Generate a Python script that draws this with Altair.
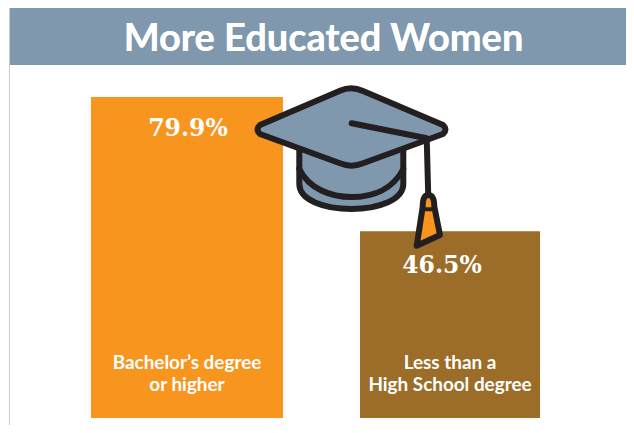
import altair as alt
import pandas as pd

categories = ["Bachelor’s degree\nor higher", "Less than a\nHigh School degree"]
values = [79.9, 46.5]
value_labels = ["79.9%", "46.5%"]
bar_colors = ["#F8951F", "#9C6D28"]
title_text = "More Educated Women"

df = pd.DataFrame({"cat": categories, "value": values, "label": value_labels, "zero": [0, 0]})

BLUE = "#8098AE"
INK = "#231F20"
ORANGE = "#F8951F"

x_scale = alt.Scale(type="point", domain=categories, range=[179, 442], padding=0)
y_scale = alt.Scale(domain=[0, 79.9], range=[410, 89])
X = alt.X("cat:N", scale=x_scale, axis=None)
Y = alt.Y("value:Q", scale=y_scale, axis=None)
Y0 = alt.Y("zero:Q", scale=y_scale, axis=None)

layers = []

# page frame and banner
layers.append(alt.Chart(df).mark_rule(color="#c9c9c9", strokeWidth=1).encode(
    x=alt.value(1.5), y=alt.value(0), y2=alt.value(417)))
layers.append(alt.Chart(df).mark_rect(color=BLUE).encode(
    x=alt.value(2), x2=alt.value(618), y=alt.value(0), y2=alt.value(57)))
layers.append(alt.Chart(df).mark_text(
    text=title_text, font="Lato", fontSize=38, fontWeight=700, color="white",
    align="center", baseline="middle").encode(x=alt.value(315.5), y=alt.value(31.5)))

# bars
widths = [192, 180]
for i, c in enumerate(categories):
    d = df[df.cat == c]
    layers.append(alt.Chart(d).mark_bar(size=widths[i], color=bar_colors[i]).encode(x=X, y=Y, y2=alt.Y2("zero:Q")))

# hat icon: symbols positioned at one anchor
ANCHOR_X, ANCHOR_Y = 343, 119
def icon(path, fill=None, sw=6):
    kw = dict(shape=path, size=4, stroke=INK, strokeWidth=sw, strokeJoin="round", strokeCap="round", opacity=1)
    if fill:
        kw.update(filled=True, fill=fill, fillOpacity=1)
    else:
        kw.update(filled=False, fillOpacity=0)
    return alt.Chart(df.head(1)).mark_point(**kw).encode(x=alt.value(ANCHOR_X), y=alt.value(ANCHOR_Y))

body = "M-51.7,20 L-51.7,57 C-51.7,73 -27,82 0.5,82 C27,82 52.3,73 52.3,57 L52.3,20 Z"
band = "M-51.7,42 C-42,62 -20,70 0.5,70 C22,70 42,62 52.3,42"
top = ("M-11,-36.3 Q0.5,-41.5 12,-36 L92,-2 Q97,2.5 92,7 L12,36.3 Q0.5,41 -11,36.3 "
       "L-91,7 Q-96,2.5 -91,-2 Z")
cord = "M0.7,-3.7 L75.7,11.3 L77.3,71"
tassel = "M71.7,79.7 Q71.7,68 77.3,68 Q83.3,68 83.3,79.7 L89,108 L65.7,118.7 Z"
tassel_band = "M71.7,82.3 L83.3,82.3"

layers += [icon(body, BLUE), icon(band), icon(top, BLUE), icon(cord), icon(tassel, ORANGE), icon(tassel_band, sw=4)]

# value labels and category labels
value_dx = [1, -8]
value_dy = [32, 35]
for i, c in enumerate(categories):
    d = df[df.cat == c]
    layers.append(alt.Chart(d).mark_text(
        font="DejaVu Serif", fontWeight=700, fontSize=23.5, color="white",
        align="center", baseline="middle", dx=value_dx[i], dy=value_dy[i]
    ).encode(x=X, y=Y, text="label:N"))

for i, c in enumerate(categories):
    d = df[df.cat == c]
    layers.append(alt.Chart(d).mark_text(
        font="Lato", fontWeight=700, fontSize=18.9, color="white", lineBreak="\n", lineHeight=22,
        align="center", baseline="middle", dy=-55
    ).encode(x=X, y=Y0, text="cat:N"))

chart = alt.layer(*layers).properties(
    width=618, height=417, padding=0, autosize=alt.AutoSizeParams(type="none"), background="white"
).configure_view(stroke=None)

chart.save("out.html", embed_options={"renderer": "svg", "actions": False})
